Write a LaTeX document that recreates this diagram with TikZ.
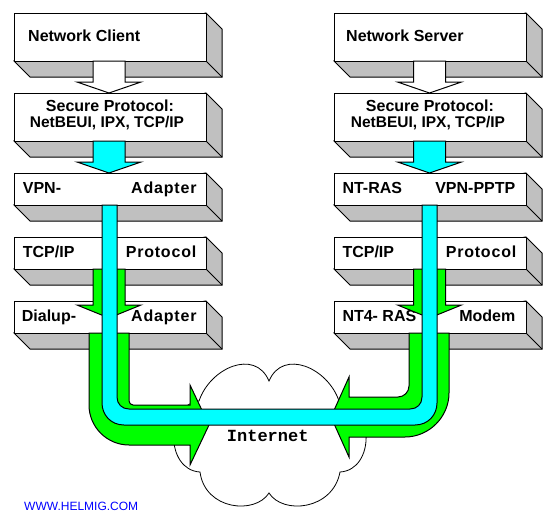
\documentclass[tikz,border=0pt]{standalone}
\usepackage{fontspec}
\setmainfont{Liberation Sans}
\newfontfamily\monof{Liberation Mono}
\definecolor{shadegray}{HTML}{C0C0C0}
\definecolor{vpncyan}{HTML}{00FFFF}
\definecolor{dialgreen}{HTML}{00FF00}
\definecolor{linkblue}{HTML}{0000FF}
\tikzset{
  front/.style={rectangle, draw=black, fill=white, line width=1pt, minimum width=192pt, inner sep=0pt, outer sep=0pt},
  sideface/.style={draw=black, fill=shadegray, line width=1pt},
  lbl/.style={font=\bfseries\fontsize{16}{16}\selectfont, inner sep=0pt},
  lblwide/.style={font=\bfseries\fontsize{16}{16}\selectfont\addfontfeature{LetterSpace=5}, inner sep=0pt},
  lblsm/.style={font=\bfseries\fontsize{15.5}{16}\selectfont, inner sep=0pt},
  whitearrow/.style={draw=black, fill=white, line width=1pt, line join=miter},
  cyanarrow/.style={draw=black, fill=vpncyan, line width=1pt, line join=miter},
  greenarrow/.style={draw=black, fill=dialgreen, line width=1pt, line join=miter},
  cloudline/.style={draw=black, line width=0.8pt},
  nettext/.style={font=\monof\bfseries\fontsize{17}{17}\selectfont, inner sep=0pt},
  weblink/.style={font=\fontsize{12}{12}\selectfont, text=linkblue, inner sep=0pt}
}
% 3D box: name, left x, top y, height
\newcommand\tbox[4]{%
  \filldraw[sideface] (#2,{#3+#4}) -- ({#2+16},{#3+#4+16}) -- ({#2+208},{#3+#4+16}) -- ({#2+208},{#3+16}) -- ({#2+192},#3) -- cycle;
  \draw[sideface] ({#2+192},{#3+#4}) -- ({#2+208},{#3+#4+16});
  \node[front, minimum height=#4pt, anchor=north west] (#1) at (#2,#3) {};
}
% block arrow pointing down: style, centre x, top y, head y, tip y
\newcommand\blockdown[5]{%
  \filldraw[#1] ({#2-16},#3) -- ({#2-16},#4) -- ({#2-32},#4) -- (#2,#5) -- ({#2+32},#4) -- ({#2+16},#4) -- ({#2+16},#3) -- cycle;
}
\begin{document}
\begin{tikzpicture}[x=1pt,y=-1pt]
\useasboundingbox (0,0) rectangle (560,522);
\fill[white] (0,0) rectangle (560,522);

% boxes, left column
\tbox{lclient}{14}{13}{48}
\tbox{lsecure}{14}{93}{48}
\tbox{lvpn}{14}{173}{32}
\tbox{ltcp}{14}{237}{32}
\tbox{ldial}{14}{301}{32}
% boxes, right column
\tbox{rserver}{334}{13}{48}
\tbox{rsecure}{334}{93}{48}
\tbox{rvpn}{334}{173}{32}
\tbox{rtcp}{334}{237}{32}
\tbox{rmodem}{334}{301}{32}

% texts
\node[lbl, anchor=base west] (tclient) at (28,41.7) {Network Client};
\node[lbl, anchor=base west] (tserver) at (346,41.7) {Network Server};
\node[lbl, anchor=base] (tsec1) at (110,111.7) {Secure Protocol:};
\node[lblsm, anchor=base] (tsec2) at (107,127.3) {NetBEUI, IPX, TCP/IP};
\node[lbl, anchor=base] (tsec3) at (430,111.7) {Secure Protocol:};
\node[lblsm, anchor=base] (tsec4) at (428,127.3) {NetBEUI, IPX, TCP/IP};
\node[lbl, anchor=base west] (tvpn) at (22.7,193.3) {VPN-};
\node[lblwide, anchor=base east] (tadapter1) at (196.7,193.3) {Adapter};
\node[lbl, anchor=base west] (ttcp1) at (22.7,257.3) {TCP/IP};
\node[lblwide, anchor=base east] (tproto1) at (196.5,257.3) {Protocol};
\node[lbl, anchor=base west] (tdial) at (21.7,321.7) {Dialup-};
\node[lblwide, anchor=base east] (tadapter2) at (196.7,321.7) {Adapter};
\node[lbl, anchor=base west] (tntras) at (342.3,193.3) {NT-RAS};
\node[lbl, anchor=base east] (tpptp) at (515.5,193.3) {VPN-PPTP};
\node[lbl, anchor=base west] (ttcp2) at (342.3,257.3) {TCP/IP};
\node[lblwide, anchor=base east] (tproto2) at (516.5,257.3) {Protocol};
\node[lbl, anchor=base west] (tnt4) at (342.3,321.7) {NT4- RAS};
\node[lbl, anchor=base east] (tmodem) at (515.5,321.7) {Modem};

% cloud
\draw[cloudline] (199,401) .. controls (210,368) and (255,348) .. (269,381)
  .. controls (283,348) and (328,368) .. (339,401)
  .. controls (375,405) and (375,470) .. (340,472)
  .. controls (333,510) and (283,515) .. (269,493)
  .. controls (255,515) and (205,510) .. (200,472)
  .. controls (165,470) and (165,405) .. (199,401) -- cycle;

% upper block arrows
\blockdown{whitearrow}{109}{61}{82}{93}
\blockdown{whitearrow}{429.5}{61}{82}{93}
\blockdown{cyanarrow}{109}{141}{162}{173}
\blockdown{cyanarrow}{429.5}{141}{162}{173}
\blockdown{greenarrow}{109}{269}{305}{318}
\blockdown{greenarrow}{429.5}{269}{305}{318}

% lower green arrows
\filldraw[greenarrow] (89,333) -- (89,405) .. controls (89,427) and (107,445) .. (129,445)
  -- (190,445) -- (190,465) -- (209,425) -- (190,385) -- (190,405) -- (133,405)
  .. controls (131,405) and (129,403) .. (129,401) -- (129,333) -- cycle;
\filldraw[greenarrow] (449,333) -- (449,393) .. controls (449,417) and (429,437) .. (405,437)
  -- (349,437) -- (349,457) -- (331,417) -- (349,377) -- (349,397) -- (398,397)
  .. controls (404,397) and (409,392) .. (409,386) -- (409,333) -- cycle;

% cyan tunnel
\filldraw[cyanarrow] (102,205) -- (102,403) .. controls (102,415) and (111,425) .. (124,425)
  -- (415,425) .. controls (428,425) and (437,415) .. (437,403) -- (437,205) -- (422,205)
  -- (422,397) .. controls (422,404) and (417,409) .. (410,409) -- (129,409)
  .. controls (122,409) and (117,404) .. (117,397) -- (117,205) -- cycle;

\node[nettext, anchor=base west] (tinternet) at (226.7,441.7) {Internet};
\node[weblink, anchor=base west] (tweb) at (24,510.7) {WWW.HELMIG.COM};
\end{tikzpicture}
\end{document}
